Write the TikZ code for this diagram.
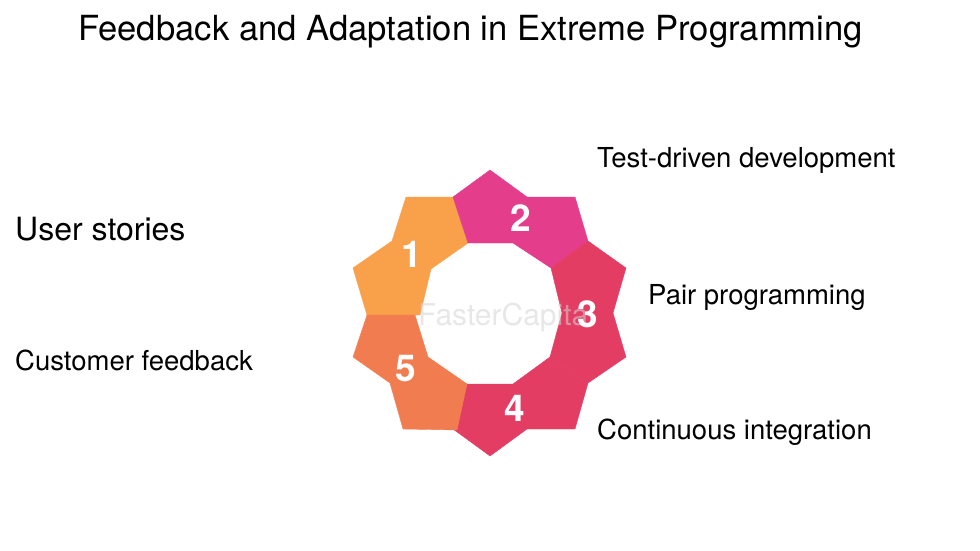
\documentclass[tikz,border=0pt]{standalone}
\usepackage{fontspec}
\setmainfont{TeX Gyre Heros}
\definecolor{petalorange}{HTML}{F9A04A}
\definecolor{petalpink}{HTML}{E43D8B}
\definecolor{petalred}{HTML}{E43D63}
\definecolor{petalcoral}{HTML}{F17C50}
\definecolor{markgray}{HTML}{D4D4D4}
\tikzset{
  petal/.style={line width=0.4pt, line join=round},
  petalnum/.style={text=white, font=\fontsize{37}{37}\selectfont\bfseries, inner sep=0pt},
  itemlabel/.style={anchor=base west, inner sep=0pt, text=black},
}
\begin{document}
\begin{tikzpicture}[x=1pt, y=-1pt]
\useasboundingbox (0, 0) rectangle (980, 551);

\filldraw [petal, petalorange] (406, 197) -- (453, 197) -- (468, 243) -- (431, 269)
  -- (420, 315) -- (367, 315) -- (353, 268) -- (392, 241) -- cycle;
\filldraw [petal, petalpink] (453, 197) -- (490, 170) -- (527, 197) -- (575, 197)
  -- (588, 241) -- (551, 268) -- (513, 243) -- (468, 243) -- cycle;
\filldraw [petal, petalred] (588, 241) -- (626, 268) -- (613, 313) -- (626, 357)
  -- (588, 383) -- (550, 357) -- (562, 313) -- (551, 268) -- cycle;
\filldraw [petal, petalred] (467, 384) -- (513, 384) -- (550, 357) -- (588, 383)
  -- (575, 429) -- (527, 429) -- (490, 456) -- (453, 429) -- cycle;
\filldraw [petal, petalcoral] (367, 315) -- (415, 315) -- (428, 357) -- (467, 384)
  -- (457, 430) -- (403, 429) -- (390, 383) -- (353, 357) -- cycle;

%%%%%%%%%%%%%%%%%%%%%%%%%%%%%%%%%%%%%%%%

\node [anchor=base west, inner sep=0pt, text=markgray, text opacity=0.55, font=\fontsize{30}{30}\selectfont] (mark) at (418, 325) {FasterCapital};

\node [petalnum] (one) at (411.5, 254) {1};
\node [petalnum] (two) at (521, 218) {2};
\node [petalnum] (three) at (588, 314) {3};
\node [petalnum] (four) at (515, 408) {4};
\node [petalnum] (five) at (406, 369) {5};

%%%%%%%%%%%%%%%%%%%%%%%%%%%%%%%%%%%%%%%%

\node [itemlabel, font=\fontsize{34.6}{34.6}\selectfont] (title) at (78, 41) {Feedback and Adaptation in Extreme Programming};
\node [itemlabel, font=\fontsize{27.5}{27.5}\selectfont] (test) at (597, 167) {Test-driven development};
\node [itemlabel, font=\fontsize{32}{32}\selectfont] (stories) at (15, 240) {User stories};
\node [itemlabel, font=\fontsize{27.5}{27.5}\selectfont] (pair) at (648, 304) {Pair programming};
\node [itemlabel, font=\fontsize{27.5}{27.5}\selectfont] (customer) at (15, 370) {Customer feedback};
\node [itemlabel, font=\fontsize{27.5}{27.5}\selectfont] (continuous) at (597, 439) {Continuous integration};
\end{tikzpicture}
\end{document}
